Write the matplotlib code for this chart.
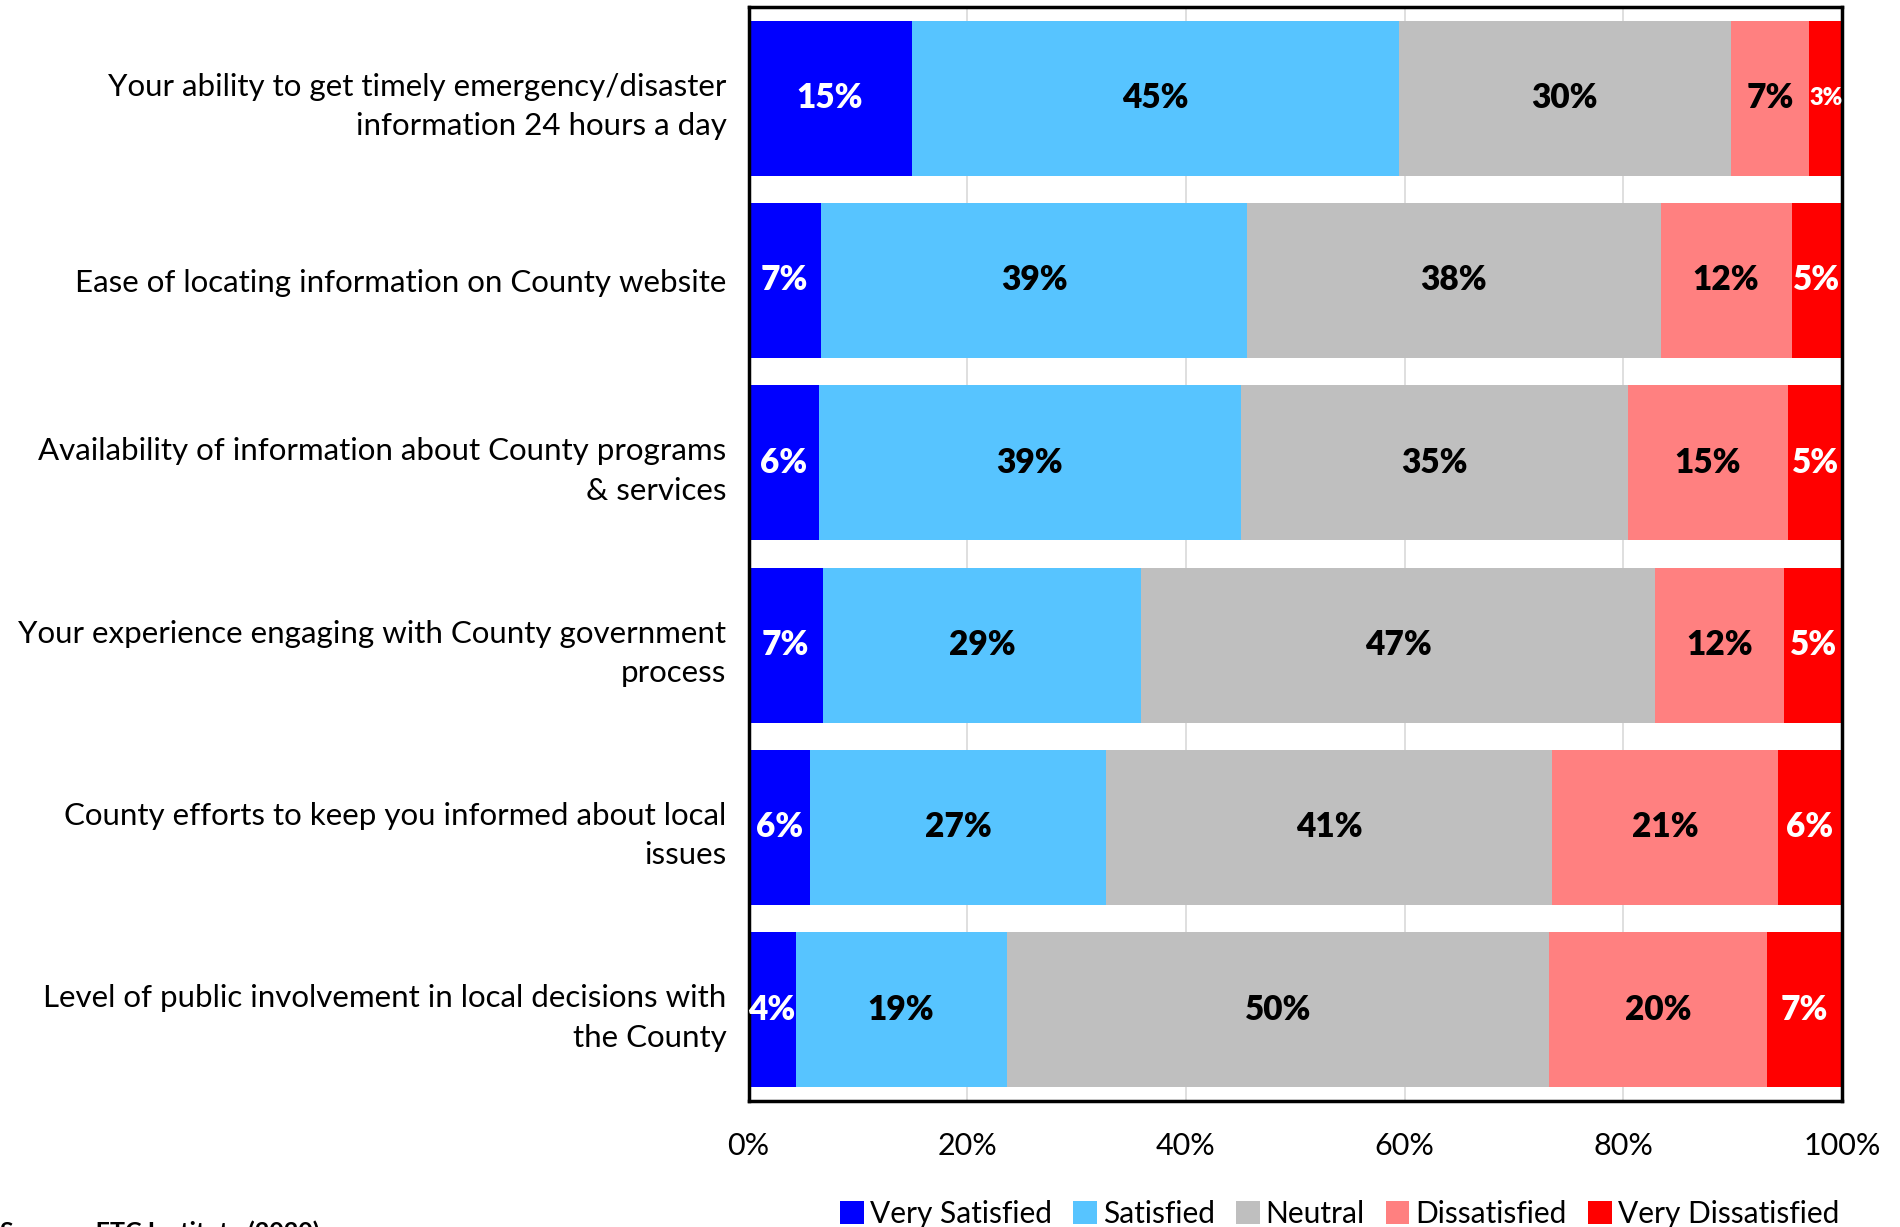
import matplotlib.pyplot as plt
import numpy as np

plt.rcParams['font.family'] = ['Lato', 'DejaVu Sans']

# Survey items, top to bottom
questions = [
    "Your ability to get timely emergency/disaster\ninformation 24 hours a day",
    "Ease of locating information on County website",
    "Availability of information about County programs\n& services",
    "Your experience engaging with County government\nprocess",
    "County efforts to keep you informed about local\nissues",
    "Level of public involvement in local decisions with\nthe County",
]

categories = ["Very Satisfied", "Satisfied", "Neutral", "Dissatisfied", "Very Dissatisfied"]

# percent of respondents per category, one list per category
very_satisfied = [14.9, 6.6, 6.4, 6.8, 5.6, 4.3]
satisfied = [44.6, 39.0, 38.6, 29.1, 27.1, 19.3]
neutral = [30.3, 37.8, 35.4, 47.0, 40.8, 49.6]
dissatisfied = [7.2, 12.0, 14.7, 11.8, 20.6, 19.9]
very_dissatisfied = [3.0, 4.6, 4.9, 5.3, 5.9, 6.9]

colors = ["#0000FF", "#57C4FF", "#BFBFBF", "#FF8080", "#FF0000"]
text_colors = ["white", "black", "black", "black", "white"]

series = [very_satisfied, satisfied, neutral, dissatisfied, very_dissatisfied]

fig = plt.figure(figsize=(19, 12.27), dpi=100)
ax = fig.add_axes([0.394, 0.1027, 0.5755, 0.8916])

y = np.arange(len(questions))
left = np.zeros(len(questions))
for name, vals, col, tcol in zip(categories, series, colors, text_colors):
    vals = np.array(vals)
    ax.barh(y, vals, left=left, height=0.85, color=col, label=name, zorder=2)
    for yi, l, v in zip(y, left, vals):
        size = 17 if v < 4 else 24
        ax.text(l + v / 2, yi, f"{v:.0f}%", ha='center', va='center',
                color=tcol, fontsize=size, fontweight='heavy', zorder=3)
    left += vals

ax.set_xlim(0, 100)
ax.set_ylim(len(questions) - 0.5, -0.5)
ax.set_yticks(y)
ax.set_yticklabels(questions, fontsize=22.5, linespacing=1.5)
ax.set_xticks(np.arange(0, 101, 20))
ax.set_xticklabels([f"{t}%" for t in range(0, 101, 20)], fontsize=22)
ax.tick_params(axis='both', length=0)
ax.tick_params(axis='y', pad=16)
ax.tick_params(axis='x', pad=22)
ax.xaxis.grid(True, color='#d9d9d9', linewidth=1.2, zorder=0)
ax.set_axisbelow(True)
for sp in ax.spines.values():
    sp.set_linewidth(2.5)
    sp.set_color('black')

fig.legend(loc='center', bbox_to_anchor=(0.705, 0.011), ncol=5, frameon=False,
           fontsize=21.5, handlelength=0.8, handleheight=0.8, handletextpad=0.2,
           columnspacing=0.7, borderaxespad=0)

fig.text(0.0, -0.011, "Source:  ETC Institute (2020)", fontsize=18,
         fontweight='bold', ha='left', va='baseline')

fig.savefig("out.png", dpi=100)
